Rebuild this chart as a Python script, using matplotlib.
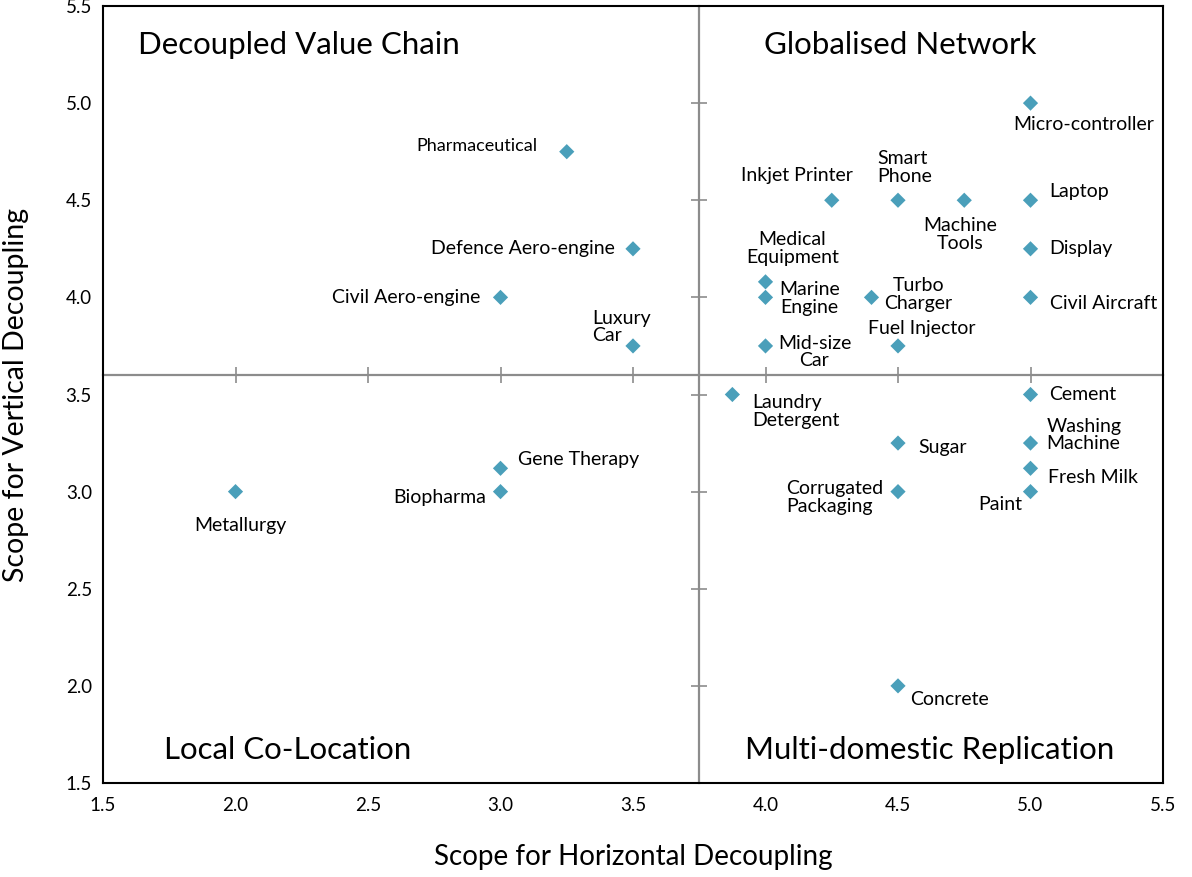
import numpy as np
import matplotlib
matplotlib.use('Agg')
import matplotlib.pyplot as plt

plt.rcParams['font.family'] = ['Lato', 'DejaVu Sans']

# data
names = ['Pharmaceutical', 'Defence Aero-engine', 'Civil Aero-engine', 'Luxury\nCar',
         'Metallurgy', 'Gene Therapy', 'Biopharma',
         'Micro-controller', 'Inkjet Printer', 'Smart\nPhone', 'Machine\nTools', 'Laptop',
         'Display', 'Medical\nEquipment', 'Marine\nEngine', 'Turbo\nCharger',
         'Civil Aircraft', 'Mid-size\nCar', 'Fuel Injector',
         'Laundry\nDetergent', 'Cement', 'Sugar', 'Washing\nMachine', 'Fresh Milk',
         'Corrugated\nPackaging', 'Paint', 'Concrete']
horizontal = [3.25, 3.5, 3.0, 3.5,
              2.0, 3.0, 3.0,
              5.0, 4.25, 4.5, 4.75, 5.0,
              5.0, 4.0, 4.0, 4.4,
              5.0, 4.0, 4.5,
              3.875, 5.0, 4.5, 5.0, 5.0,
              4.5, 5.0, 4.5]
vertical = [4.75, 4.25, 4.0, 3.75,
            3.0, 3.12, 3.0,
            5.0, 4.5, 4.5, 4.5, 4.5,
            4.25, 4.08, 4.0, 4.0,
            4.0, 3.75, 3.75,
            3.5, 3.5, 3.25, 3.25, 3.12,
            3.0, 3.0, 2.0]
quadrants = ['Decoupled Value Chain', 'Globalised Network',
             'Local Co-Location', 'Multi-domestic Replication']
ticks = [1.5, 2.0, 2.5, 3.0, 3.5, 4.0, 4.5, 5.0, 5.5]
cross_x, cross_y = 3.75, 3.6

# label placement (pixel offsets from the point, alignment)
offsets = [(-29, 6, 'right'), (-18, 0, 'right'), (-20, 0, 'right'), (-41, 19, 'left'),
           (5, -34, 'center'), (18, 9, 'left'), (-14, -6, 'right'),
           (-17, -21, 'left'), (21, 25, 'right'), (-21, 33, 'left'), (-4, -34, 'center'), (19, 9, 'left'),
           (19, 0, 'left'), (27, 33, 'center'), (44, -1, 'center'), (47, 3, 'center'),
           (19, -6, 'left'), (49, -6, 'center'), (24, 17, 'center'),
           (20, -17, 'left'), (19, 0, 'left'), (20, -4, 'left'), (16, 8, 'left'), (17, -9, 'left'),
           (-15, -6, 'right'), (-8, -13, 'right'), (12, -14, 'left')]
quad_pos = [(0.033, 0.95), (0.624, 0.95), (0.058, 0.042), (0.606, 0.042)]

fig = plt.figure(figsize=(11.92, 8.77), dpi=100)
rect = [103/1192, 1 - 783/877, 1060/1192, 777/877]

# inner axes: crossing lines with tick marks
ax = fig.add_axes(rect)
ax.set_xlim(1.5, 5.5)
ax.set_ylim(1.5, 5.5)
ax.spines['left'].set_position(('data', cross_x))
ax.spines['bottom'].set_position(('data', cross_y))
ax.spines['top'].set_visible(False)
ax.spines['right'].set_visible(False)
for s in ['left', 'bottom']:
    ax.spines[s].set_color('#8c8c8c')
    ax.spines[s].set_linewidth(1.6)
ax.set_xticks(ticks)
ax.set_yticks(ticks)
ax.tick_params(direction='inout', length=11, width=1.2, color='#8c8c8c',
               labelbottom=False, labelleft=False)

ax.scatter(horizontal, vertical, marker='D', s=60, color='#4a9fba', zorder=5,
           edgecolors='none')

for n, x, y, (dx, dy, ha) in zip(names, horizontal, vertical, offsets):
    fs = 13 if n == 'Pharmaceutical' else 14
    ax.annotate(n, (x, y), xytext=(dx, dy), textcoords='offset pixels',
                ha=ha, va='center', multialignment=('center' if ha == 'center' else 'left'),
                fontsize=fs, linespacing=1.05, color='black')

for q, (qx, qy) in zip(quadrants, quad_pos):
    ax.text(qx, qy, q, transform=ax.transAxes, ha='left', va='center', fontsize=22.5,
            color='black')

# outer frame with tick labels
ax2 = fig.add_axes(rect, facecolor='none')
ax2.set_xlim(1.5, 5.5)
ax2.set_ylim(1.5, 5.5)
ax2.set_xticks(ticks)
ax2.set_yticks(ticks)
ax2.set_xticklabels(['%.1f' % t for t in ticks])
ax2.set_yticklabels(['%.1f' % t for t in ticks])
ax2.tick_params(length=0, labelsize=13.5, pad=10)
ax2.tick_params(axis='y', pad=8)
for s in ax2.spines.values():
    s.set_color('black')
    s.set_linewidth(1.5)
ax2.set_xlabel('Scope for Horizontal Decoupling', fontsize=20, labelpad=22)
ax2.set_ylabel('Scope for Vertical Decoupling', fontsize=20.5, labelpad=26)

fig.savefig('out.png', dpi=100)
